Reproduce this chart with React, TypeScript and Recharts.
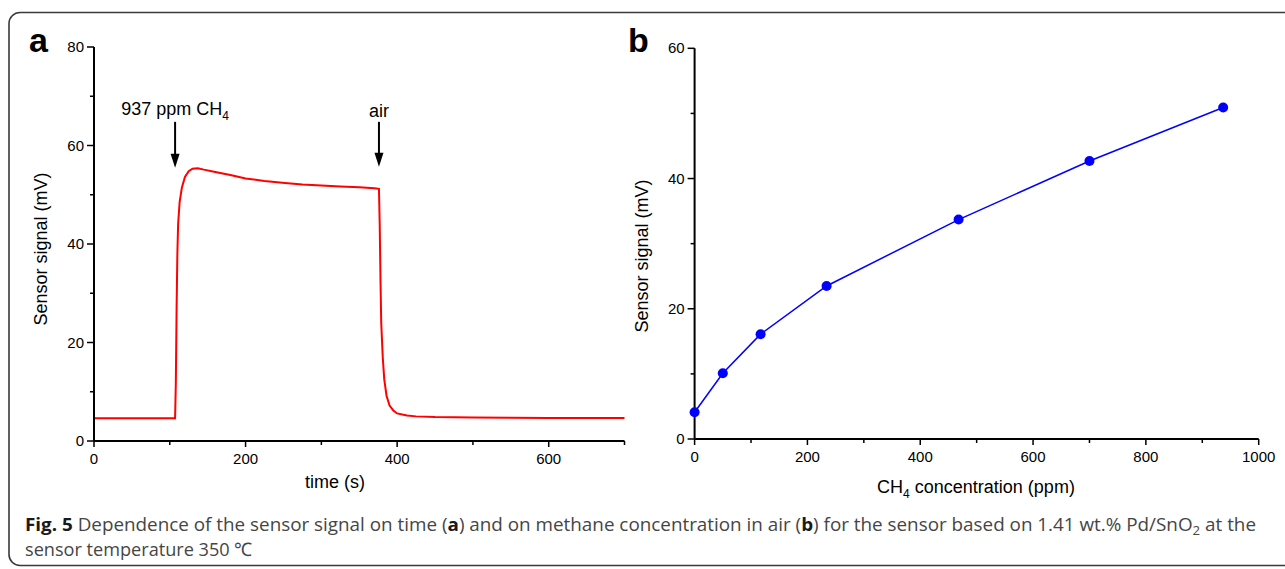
import { LineChart, Line, XAxis, YAxis, ReferenceLine } from 'recharts';

// panel a: sensor response vs time
const timeS = [
  0, 50, 100, 107, 108, 109, 110, 111, 113, 116, 120, 125, 130, 137, 145, 160, 180, 200, 225, 252,
  275, 300, 325, 350, 370, 376, 377, 378, 379, 381, 383, 386, 390, 395, 400, 413, 425, 450, 500,
  550, 600, 650, 700,
];
const signalMV = [
  4.6, 4.6, 4.6, 4.6, 12, 27, 38, 44, 48.5, 51.5, 53.6, 54.8, 55.3, 55.4, 55.1, 54.6, 54.0, 53.3,
  52.8, 52.4, 52.1, 51.9, 51.7, 51.5, 51.3, 51.2, 44, 33, 24, 17, 12.5, 9.2, 7.2, 6.2, 5.6, 5.2,
  5.0, 4.85, 4.75, 4.7, 4.68, 4.66, 4.65,
];
const timeTicks = [0, 100, 200, 300, 400, 500, 600, 700];
const timeLabelled = [0, 200, 400, 600];
const signalTicksA = [0, 10, 20, 30, 40, 50, 60, 70, 80];
const signalLabelledA = [0, 20, 40, 60, 80];

// arrows marking gas switching
const arrowTimes = [107, 376];
const arrowTop = [64.8, 64.8];
const arrowTip = [55.5, 55.7];
const arrowLabels = ['937 ppm CH', 'air'];
const arrowSubs = ['4', ''];

// panel b: sensor signal vs CH4 concentration
const concPpm = [0, 50, 117, 234, 468, 700, 937];
const concSignalMV = [4.1, 10.1, 16.1, 23.5, 33.7, 42.7, 50.9];
const concTicks = [0, 100, 200, 300, 400, 500, 600, 700, 800, 900, 1000];
const concLabelled = [0, 200, 400, 600, 800, 1000];
const signalTicksB = [0, 10, 20, 30, 40, 50, 60];
const signalLabelledB = [0, 20, 40, 60];

const dataA = timeS.map((t, i) => ({ t, v: signalMV[i] }));
const dataB = concPpm.map((c, i) => ({ c, v: concSignalMV[i] }));

const AXIS_FONT = "'Liberation Sans', Arial, sans-serif";

const makeXTick = (labelled: number[]) => (props: any) => {
  const { x, y, payload } = props;
  const major = labelled.includes(payload.value);
  return (
    <g>
      <line x1={x} x2={x} y1={y} y2={y + (major ? 6 : 4)} stroke="#000" strokeWidth={1.5} />
      {major && (
        <text x={x} y={y + 23} textAnchor="middle" fontFamily={AXIS_FONT} fontSize={15} fill="#000">
          {payload.value}
        </text>
      )}
    </g>
  );
};

const makeYTick = (labelled: number[]) => (props: any) => {
  const { x, y, payload } = props;
  const major = labelled.includes(payload.value);
  return (
    <g>
      <line x1={x} x2={x - (major ? 7 : 4)} y1={y} y2={y} stroke="#000" strokeWidth={1.5} />
      {major && (
        <text x={x - 10} y={y + 5} textAnchor="end" fontFamily={AXIS_FONT} fontSize={15} fill="#000">
          {payload.value}
        </text>
      )}
    </g>
  );
};

const makeArrow = (label: string, sub: string, textGap: number) => (props: any) => {
  const { x1, y1, y2 } = props;
  return (
    <g>
      <line x1={x1} x2={x1} y1={y1} y2={y2 - 10} stroke="#000" strokeWidth={2} />
      <polygon points={`${x1 - 4.5},${y2 - 14} ${x1 + 4.5},${y2 - 14} ${x1},${y2}`} fill="#000" />
      <text x={x1} y={y1 - textGap} textAnchor="middle" fontFamily={AXIS_FONT} fontSize={18} fill="#000">
        {label}
        {sub && (
          <tspan dy={5} fontSize={12}>
            {sub}
          </tspan>
        )}
      </text>
    </g>
  );
};

export default function App() {
  return (
    <div style={{ position: 'absolute', left: 0, top: 0, width: 1285, height: 569, background: '#fff', overflow: 'hidden' }}>
      <div style={{ position: 'absolute', left: 0, top: 0 }}>
        <LineChart width={700} height={569} data={dataA} margin={{ top: 47, right: 75.5, bottom: 98, left: 34 }}>
          <XAxis
            type="number"
            dataKey="t"
            domain={[0, 700]}
            ticks={timeTicks}
            interval={0}
            height={30}
            tickSize={0}
            tickMargin={0}
            tickLine={false}
            axisLine={{ stroke: '#000', strokeWidth: 2 }}
            tick={makeXTick(timeLabelled)}
          />
          <YAxis
            type="number"
            domain={[0, 80]}
            ticks={signalTicksA}
            interval={0}
            width={60}
            tickSize={0}
            tickMargin={0}
            tickLine={false}
            axisLine={{ stroke: '#000', strokeWidth: 2 }}
            tick={makeYTick(signalLabelledA)}
          />
          <Line
            dataKey="v"
            type="linear"
            stroke="#ff0000"
            strokeWidth={2}
            dot={false}
            isAnimationActive={false}
          />
          {arrowTimes.map((t, i) => (
            <ReferenceLine
              key={t}
              segment={[
                { x: t, y: arrowTop[i] },
                { x: t, y: arrowTip[i] },
              ]}
              shape={makeArrow(arrowLabels[i], arrowSubs[i], i === 0 ? 7 : 5)}
            />
          ))}
        </LineChart>
      </div>

      <div style={{ position: 'absolute', left: 620, top: 0 }}>
        <LineChart width={665} height={569} data={dataB} margin={{ top: 48.3, right: 26.3, bottom: 100, left: 14.6 }}>
          <XAxis
            type="number"
            dataKey="c"
            domain={[0, 1000]}
            ticks={concTicks}
            interval={0}
            height={30}
            tickSize={0}
            tickMargin={0}
            tickLine={false}
            axisLine={{ stroke: '#000', strokeWidth: 2 }}
            tick={makeXTick(concLabelled)}
          />
          <YAxis
            type="number"
            domain={[0, 60]}
            ticks={signalTicksB}
            interval={0}
            width={60}
            tickSize={0}
            tickMargin={0}
            tickLine={false}
            axisLine={{ stroke: '#000', strokeWidth: 2 }}
            tick={makeYTick(signalLabelledB)}
          />
          <Line
            dataKey="v"
            type="linear"
            stroke="#0000ff"
            strokeWidth={1.5}
            dot={{ r: 5, fill: '#0000ff', stroke: 'none' }}
            isAnimationActive={false}
          />
        </LineChart>
      </div>

      {/* frame, panel letters, axis titles, caption */}
      <svg width={1285} height={569} style={{ position: 'absolute', left: 0, top: 0, pointerEvents: 'none' }}>
        <rect x={9} y={12.5} width={1300} height={553} rx={11} ry={11} fill="none" stroke="#3a3a3a" strokeWidth={1.6} />

        <text x={29} y={52} fontFamily={AXIS_FONT} fontWeight="bold" fontSize={34} fill="#000">a</text>
        <text x={628} y={52} fontFamily={AXIS_FONT} fontWeight="bold" fontSize={34} fill="#000">b</text>

        <text x={335} y={488} textAnchor="middle" fontFamily={AXIS_FONT} fontSize={18} fill="#000">time (s)</text>
        <text transform="translate(47,249) rotate(-90)" textAnchor="middle" fontFamily={AXIS_FONT} fontSize={18} fill="#000">
          Sensor signal (mV)
        </text>
        <text x={976} y={493} textAnchor="middle" fontFamily={AXIS_FONT} fontSize={18} fill="#000">
          CH<tspan dy={5} fontSize={12}>4</tspan>
          <tspan dy={-5}> concentration (ppm)</tspan>
        </text>
        <text transform="translate(648,256) rotate(-90)" textAnchor="middle" fontFamily={AXIS_FONT} fontSize={18} fill="#000">
          Sensor signal (mV)
        </text>

        <text x={25} y={531} fontFamily="'Open Sans', sans-serif" fontSize={18.5} fill="#454545" textLength={1231} lengthAdjust="spacingAndGlyphs">
          <tspan fontWeight="bold" fill="#1a1a1a">Fig. 5</tspan>
          <tspan>{' Dependence of the sensor signal on time ('}</tspan>
          <tspan fontWeight="bold" fill="#1a1a1a">a</tspan>
          <tspan>{') and on methane concentration in air ('}</tspan>
          <tspan fontWeight="bold" fill="#1a1a1a">b</tspan>
          <tspan>{') for the sensor based on 1.41 wt.% Pd/SnO'}</tspan>
          <tspan dy={4} fontSize={13}>2</tspan>
          <tspan dy={-4}>{' at the'}</tspan>
        </text>
        <text x={25} y={556} fontFamily="'Open Sans', sans-serif" fontSize={18.5} fill="#454545" textLength={227} lengthAdjust="spacingAndGlyphs">
          sensor temperature 350 ℃
        </text>
      </svg>
    </div>
  );
}
